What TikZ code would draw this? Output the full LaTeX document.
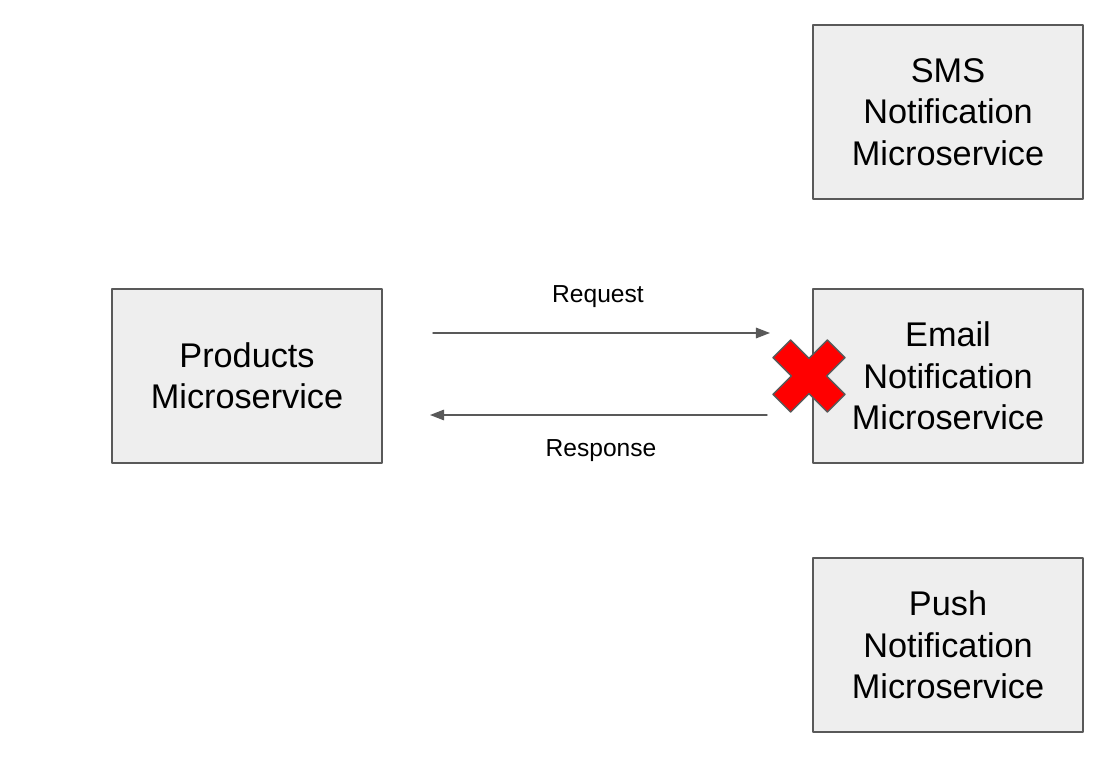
\documentclass[tikz,border=0pt]{standalone}
\usepackage{fontspec}
\setmainfont{Liberation Sans}
\usepackage{xcolor}
\usetikzlibrary{arrows.meta,positioning}
\definecolor{boxfill}{HTML}{EEEEEE}
\definecolor{edgegray}{HTML}{595959}
\definecolor{crossred}{HTML}{FF0000}
\begin{document}
\begin{tikzpicture}[line cap=round,line join=round,>={Triangle[length=8pt,width=6pt]},x=0.02cm,y=-0.02cm,
    service/.style={draw=edgegray,line width=0.8pt,fill=boxfill,minimum width=5.4cm,minimum height=3.48cm,align=center,inner sep=0pt,font=\fontsize{19.5}{23.5}\selectfont},
    flow/.style={draw=edgegray,line width=0.8pt,->},
    flowlabel/.style={font=\fontsize{14}{16}\selectfont}]
                \useasboundingbox (0,0) rectangle (1114,776);
                \node[service] (products) at (247,376) {Products\\Microservice};
                \node[service] (sms) at (948,112) {SMS\\Notification\\Microservice};
                \node[service] (email) at (948,376) {Email\\Notification\\Microservice};
                \node[service] (push) at (948,645) {Push\\Notification\\Microservice};
                % request / response between the two services
                \coordinate (reqStart) at (433,333);
                \coordinate (reqEnd) at (770,333);
                \coordinate (resStart) at (767,415);
                \coordinate (resEnd) at (430,415);
                \draw[flow] (reqStart) -- (reqEnd);
                \draw[flow] (resStart) -- (resEnd);
                \node[flowlabel] (reqlabel) at (598,297) {Request};
                \node[flowlabel] (reslabel) at (601,451) {Response};
                % failed call
                \draw[draw=edgegray,line width=0.8pt,fill=crossred,rotate around={45:(809,376)}]
                    (796.5,337.5) -- (821.5,337.5) -- (821.5,363.5) -- (847.5,363.5) -- (847.5,388.5) -- (821.5,388.5)
                    -- (821.5,414.5) -- (796.5,414.5) -- (796.5,388.5) -- (770.5,388.5) -- (770.5,363.5) -- (796.5,363.5) -- cycle;
            \end{tikzpicture}
\end{document}
